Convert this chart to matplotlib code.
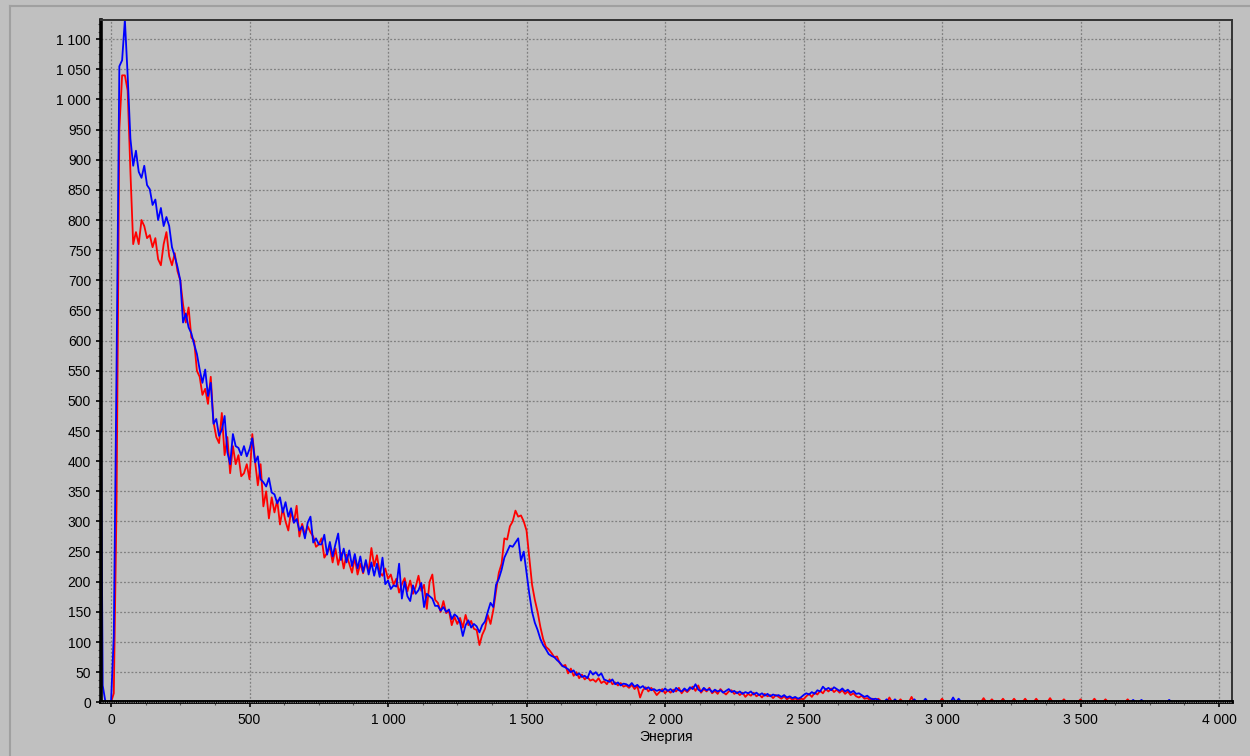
import numpy as np
import matplotlib
matplotlib.use("Agg")
import matplotlib.pyplot as plt
from matplotlib.ticker import MultipleLocator, FuncFormatter
from matplotlib.lines import Line2D

# ---------------- data (counts per 10-unit energy channel, starting at -40) ----
E_START = -40
E_STEP = 10

red_counts = [
    0, 0, 0, 0, 0, 15, 330, 950, 1040, 1040,            # -40 .. 50
    1015, 880, 760, 780, 760, 800, 790, 770, 775, 755,  # 60 .. 150
    770, 735, 725, 760, 780, 740, 725, 745, 715, 700,   # 160 .. 250
    660, 630, 655, 605, 600, 550, 540, 510, 520, 495,   # 260 .. 350
    540, 465, 440, 430, 480, 410, 440, 380, 425, 395,   # 360 .. 450
    410, 375, 380, 395, 370, 445, 400, 360, 395, 325,   # 460 .. 550
    350, 305, 340, 315, 335, 295, 322, 300, 285, 318,   # 560 .. 650
    298, 326, 275, 296, 278, 292, 282, 275, 258, 262,   # 660 .. 750
    272, 240, 248, 258, 232, 255, 228, 248, 222, 245,   # 760 .. 850
    230, 215, 240, 212, 230, 214, 232, 218, 256, 226,   # 860 .. 950
    244, 215, 210, 222, 205, 212, 195, 205, 182, 196,   # 960 .. 1050
    206, 184, 202, 180, 192, 210, 185, 195, 155, 200,   # 1060 .. 1150
    212, 170, 165, 150, 168, 148, 152, 128, 142, 130,   # 1160 .. 1250
    140, 124, 145, 128, 135, 122, 120, 95, 112, 122,    # 1260 .. 1350
    145, 130, 153, 185, 215, 230, 272, 270, 292, 300,   # 1360 .. 1450
    318, 308, 310, 300, 285, 240, 195, 170, 150, 125,   # 1460 .. 1550
    105, 92, 88, 82, 75, 76, 65, 60, 62, 48,            # 1560 .. 1650
    56, 44, 50, 40, 46, 38, 42, 36, 38, 34,             # 1660 .. 1750
    40, 32, 35, 30, 38, 30, 33, 28, 32, 26,             # 1760 .. 1850
    28, 24, 29, 22, 27, 8, 20, 25, 18, 24,              # 1860 .. 1950
    19, 12, 17, 22, 15, 20, 16, 21, 18, 24,             # 1960 .. 2050
    15, 21, 17, 22, 26, 19, 28, 16, 22, 18,             # 2060 .. 2150
    24, 15, 19, 14, 22, 17, 13, 18, 20, 14,             # 2160 .. 2250
    17, 12, 16, 9, 14, 11, 16, 10, 13, 8,               # 2260 .. 2350
    14, 10, 12, 7, 12, 9, 6, 10, 5, 8,                  # 2360 .. 2450
    4, 7, 3, 6, 5, 10, 14, 9, 16, 13,                   # 2460 .. 2550
    19, 15, 22, 18, 23, 17, 21, 16, 20, 14,             # 2560 .. 2650
    18, 12, 15, 10, 8, 11, 6, 7, 4, 6,                  # 2660 .. 2750
    2, 6, 2, 0, 0, 8, 0, 0, 0, 5,                       # 2760 .. 2850
    0, 0, 0, 9, 0, 0, 0, 0, 0, 0,                       # 2860 .. 2950
    0, 0, 0, 0, 6, 0, 0, 0, 0, 0,                       # 2960 .. 3050
    0, 0, 0, 0, 0, 0, 0, 0, 0, 7,                       # 3060 .. 3150
    0, 0, 5, 0, 0, 0, 6, 0, 0, 0,                       # 3160 .. 3250
    6, 0, 0, 0, 6, 0, 0, 0, 6, 0,                       # 3260 .. 3350
    0, 0, 0, 7, 0, 0, 0, 0, 5, 0,                       # 3360 .. 3450
    0, 0, 0, 0, 5, 0, 0, 0, 0, 6,                       # 3460 .. 3550
    0, 0, 0, 5, 0, 0, 0, 0, 0, 0,                       # 3560 .. 3650
    0, 5, 0, 0, 0, 0, 0, 0, 0, 0,                       # 3660 .. 3750
    0, 0, 0, 0, 0, 0, 0, 0, 0, 0,                       # 3760 .. 3850
]

blue_counts = [
    700, 28, 0, 0, 0, 110, 560, 1055, 1065, 1132,       # -40 .. 50
    1040, 935, 890, 915, 880, 870, 890, 858, 851, 825,  # 60 .. 150
    834, 800, 820, 790, 805, 790, 755, 740, 722, 700,   # 160 .. 250
    630, 645, 622, 612, 594, 578, 552, 530, 552, 508,   # 260 .. 350
    530, 462, 470, 442, 452, 475, 415, 395, 445, 425,   # 360 .. 450
    422, 410, 425, 408, 420, 438, 398, 408, 370, 365,   # 460 .. 550
    358, 372, 348, 345, 330, 340, 315, 332, 308, 322,   # 560 .. 650
    298, 304, 285, 292, 272, 298, 308, 265, 272, 262,   # 660 .. 750
    262, 278, 245, 266, 242, 262, 280, 236, 255, 232,   # 760 .. 850
    252, 226, 246, 222, 242, 216, 236, 212, 232, 210,   # 860 .. 950
    230, 208, 240, 196, 202, 188, 194, 192, 230, 172,   # 960 .. 1050
    200, 176, 168, 194, 180, 186, 198, 158, 180, 176,   # 1060 .. 1150
    172, 160, 160, 152, 158, 150, 154, 138, 146, 142,   # 1160 .. 1250
    132, 110, 128, 136, 124, 130, 126, 116, 128, 134,   # 1260 .. 1350
    150, 165, 158, 195, 205, 220, 240, 250, 260, 258,   # 1360 .. 1450
    265, 272, 235, 250, 215, 180, 150, 132, 120, 105,   # 1460 .. 1550
    95, 88, 80, 77, 75, 70, 66, 60, 58, 55,             # 1560 .. 1650
    50, 53, 45, 48, 42, 44, 40, 52, 46, 50,             # 1660 .. 1750
    44, 48, 38, 36, 34, 38, 30, 33, 28, 31,             # 1760 .. 1850
    30, 27, 32, 26, 29, 24, 27, 22, 25, 20,             # 1860 .. 1950
    22, 19, 21, 18, 23, 19, 22, 17, 24, 20,             # 1960 .. 2050
    18, 23, 19, 25, 22, 30, 21, 18, 24, 20,             # 2060 .. 2150
    22, 17, 21, 18, 20, 16, 19, 22, 17, 19,             # 2160 .. 2250
    15, 18, 14, 17, 15, 18, 13, 16, 12, 15,             # 2260 .. 2350
    11, 14, 10, 13, 11, 12, 9, 12, 8, 10,               # 2360 .. 2450
    7, 9, 6, 8, 12, 15, 13, 17, 14, 20,                 # 2460 .. 2550
    18, 26, 21, 24, 20, 25, 22, 19, 23, 18,             # 2560 .. 2650
    21, 16, 19, 14, 15, 12, 9, 11, 7, 5,                # 2660 .. 2750
    6, 4, 0, 0, 5, 0, 0, 5, 0, 0,                       # 2760 .. 2850
    0, 0, 0, 0, 5, 0, 0, 0, 6, 0,                       # 2860 .. 2950
    0, 0, 0, 0, 0, 0, 0, 0, 8, 0,                       # 2960 .. 3050
    6, 0, 0, 0, 0, 0, 0, 0, 0, 0,                       # 3060 .. 3150
    0, 0, 0, 0, 0, 0, 0, 0, 0, 0,                       # 3160 .. 3250
    0, 0, 0, 0, 0, 0, 0, 0, 0, 0,                       # 3260 .. 3350
    0, 0, 0, 0, 0, 0, 0, 0, 0, 0,                       # 3360 .. 3450
    0, 0, 0, 0, 0, 0, 0, 0, 0, 0,                       # 3460 .. 3550
    0, 0, 0, 0, 0, 0, 0, 0, 0, 0,                       # 3560 .. 3650
    0, 0, 0, 4, 0, 0, 4, 0, 0, 0,                       # 3660 .. 3750
    0, 0, 0, 0, 0, 0, 4, 0, 0, 0,                       # 3760 .. 3850
]

x_label = "Энергия"

# ---------------- figure ----------------
plt.rcParams['font.family'] = ['Liberation Sans', 'DejaVu Sans']
BG = '#c0c0c0'
fig = plt.figure(figsize=(12.5, 7.56), dpi=100, facecolor=BG)
ax = fig.add_axes([0.0804, 0.0710, 0.9048, 0.9019])
ax.set_facecolor(BG)

e_red = E_START + E_STEP * np.arange(len(red_counts))
e_blue = E_START + E_STEP * np.arange(len(blue_counts))
ax.plot(e_red, red_counts, color='#ff0000', lw=1.3, zorder=2)
ax.plot(e_blue, blue_counts, color='#0000ff', lw=1.3, zorder=2.1)

ax.set_xlim(-38, 4045)
ax.set_ylim(0, 1131)

ax.xaxis.set_major_locator(MultipleLocator(500))
ax.xaxis.set_minor_locator(MultipleLocator(125))
ax.yaxis.set_major_locator(MultipleLocator(50))
ax.yaxis.set_minor_locator(MultipleLocator(12.5))

fmt = FuncFormatter(lambda v, p: f"{int(round(v)):,}".replace(",", " "))
ax.xaxis.set_major_formatter(fmt)
ax.yaxis.set_major_formatter(fmt)

ax.set_axisbelow(True)
ax.grid(True, which='major', color='#808080', lw=0.9, ls=(0, (1.5, 1.5)))

ax.tick_params(axis='both', which='major', direction='out', length=3.8, width=1.2,
               color='black', labelsize=10, labelcolor='black')
ax.tick_params(axis='x', which='major', pad=4)
ax.tick_params(axis='y', which='major', pad=3)
ax.tick_params(axis='both', which='minor', direction='out', length=2.2, width=0.8,
               color='#555555')

for side in ('top', 'right'):
    ax.spines[side].set_color('#333333')
    ax.spines[side].set_linewidth(1.4)
ax.spines['left'].set_color('black')
ax.spines['left'].set_linewidth(2.6)
ax.spines['bottom'].set_color('black')
ax.spines['bottom'].set_linewidth(2.8)

# dotted pattern inside thick bottom axis line
ax.add_line(Line2D([0, 1], [0, 0], transform=ax.transAxes, color='#8a8a8a',
                   lw=0.8, ls=(0, (1, 1)), zorder=5, clip_on=False))

ax.set_xlabel(x_label, fontsize=10, labelpad=2)

# outer frame line (top / left)
fig.add_artist(Line2D([9.5 / 1250, 9.5 / 1250], [0, 1 - 5.5 / 756],
                      transform=fig.transFigure, color='#a0a0a0', lw=1.5))
fig.add_artist(Line2D([9.5 / 1250, 1], [1 - 5.5 / 756, 1 - 5.5 / 756],
                      transform=fig.transFigure, color='#a0a0a0', lw=1.5))

fig.savefig('out.png', dpi=100, facecolor=BG)
